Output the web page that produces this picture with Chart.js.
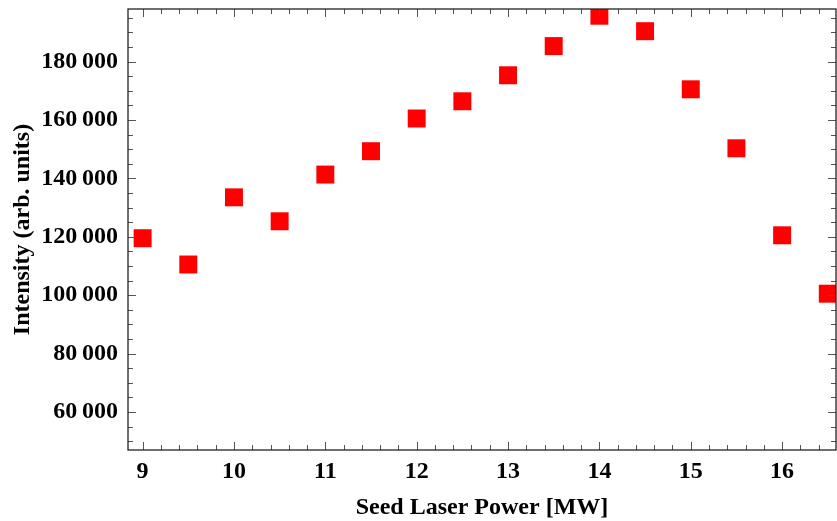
<!DOCTYPE html>
<html>
<head>
<meta charset="utf-8">
<script src="https://cdn.jsdelivr.net/npm/chart.js@4"></script>
<style>
  html, body { margin: 0; padding: 0; background: #fff; }
</style>
</head>
<body>
<canvas id="chart" width="837" height="521"></canvas>
<script>
const power = [9, 9.5, 10, 10.5, 11, 11.5, 12, 12.5, 13, 13.5, 14, 14.5, 15, 15.5, 16, 16.5];
const intensity = [119500, 110500, 133500, 125300, 141300, 149300, 160500, 166400, 175300, 185300, 195700, 190400, 170500, 150300, 120500, 100500];
const xTicks = [9, 10, 11, 12, 13, 14, 15, 16];
const yTicks = [60000, 80000, 100000, 120000, 140000, 160000, 180000];

const tickFont = { family: 'Liberation Serif', weight: 'bold', size: 24 };

// format 180000 -> "180 000"
function spaced(v) {
  return String(v).replace(/\B(?=(\d{3})+(?!\d))/g, '\u2009');
}

// frame + inward ticks on all four sides, like the original
const frameTicks = {
  id: 'frameTicks',
  afterDatasetsDraw(chart) {
    const { ctx, chartArea: a, scales: { x, y } } = chart;
    ctx.save();
    ctx.strokeStyle = '#555';
    ctx.lineWidth = 1;
    ctx.beginPath();
    // x ticks, major every 1, minor every 0.2
    for (let i = Math.ceil(x.min * 5); i <= Math.floor(x.max * 5); i++) {
      const v = i / 5;
      const px = Math.round(x.getPixelForValue(v)) + 0.5;
      const len = i % 5 === 0 ? 8 : 5;
      ctx.moveTo(px, a.bottom); ctx.lineTo(px, a.bottom - len);
      ctx.moveTo(px, a.top); ctx.lineTo(px, a.top + len);
    }
    // y ticks, major every 20000, minor every 5000
    for (let i = Math.ceil(y.min / 5000); i <= Math.floor(y.max / 5000); i++) {
      const v = i * 5000;
      const py = Math.round(y.getPixelForValue(v)) + 0.5;
      const len = i % 4 === 0 ? 8 : 5;
      ctx.moveTo(a.left, py); ctx.lineTo(a.left + len, py);
      ctx.moveTo(a.right, py); ctx.lineTo(a.right - len, py);
    }
    ctx.stroke();
    ctx.strokeStyle = '#222';
    ctx.lineWidth = 1.3;
    ctx.strokeRect(a.left, a.top, a.right - a.left, a.bottom - a.top);
    ctx.restore();
  }
};

const ctx = document.getElementById('chart').getContext('2d');

new Chart(ctx, {
  type: 'scatter',
  data: {
    datasets: [{
      data: power.map((p, i) => ({ x: p, y: intensity[i] })),
      pointStyle: 'rect',
      pointRadius: 12.7,
      pointHoverRadius: 12.7,
      pointBorderWidth: 0,
      backgroundColor: '#ff0000',
      borderColor: '#ff0000',
    }],
  },
  options: {
    responsive: false,
    animation: false,
    layout: { autoPadding: false, padding: { top: 9, right: 1, left: 0, bottom: 0 } },
    plugins: {
      legend: { display: false },
      tooltip: { enabled: false },
    },
    scales: {
      x: {
        type: 'linear',
        min: 8.84,
        max: 16.59,
        grid: { display: false, drawTicks: false },
        border: { display: false },
        afterBuildTicks: (s) => { s.ticks = xTicks.map(v => ({ value: v })); },
        afterFit: (s) => { s.height = 71; s.paddingLeft = 0; s.paddingRight = 0; },
        ticks: {
          font: tickFont,
          color: '#000',
          padding: 7,
          maxRotation: 0,
          callback: (v) => String(v),
        },
        title: {
          display: true,
          text: 'Seed Laser Power [MW]',
          font: { family: 'Liberation Serif', weight: 'bold', size: 24, lineHeight: 1 },
          color: '#000',
          padding: { top: 0, bottom: 1 },
        },
      },
      y: {
        type: 'linear',
        min: 46970,
        max: 198000,
        grid: { display: false, drawTicks: false },
        border: { display: false },
        afterBuildTicks: (s) => { s.ticks = yTicks.map(v => ({ value: v })); },
        afterFit: (s) => { s.width = 128; s.paddingTop = 0; s.paddingBottom = 0; },
        ticks: {
          font: tickFont,
          color: '#000',
          padding: 10,
          callback: (v) => spaced(v),
        },
        title: {
          display: true,
          text: 'Intensity (arb. units)',
          font: { family: 'Liberation Serif', weight: 'bold', size: 24, lineHeight: 1.2 },
          color: '#000',
          padding: { top: 8, bottom: 0 },
        },
      },
    },
  },
  plugins: [frameTicks],
});
</script>
</body>
</html>
